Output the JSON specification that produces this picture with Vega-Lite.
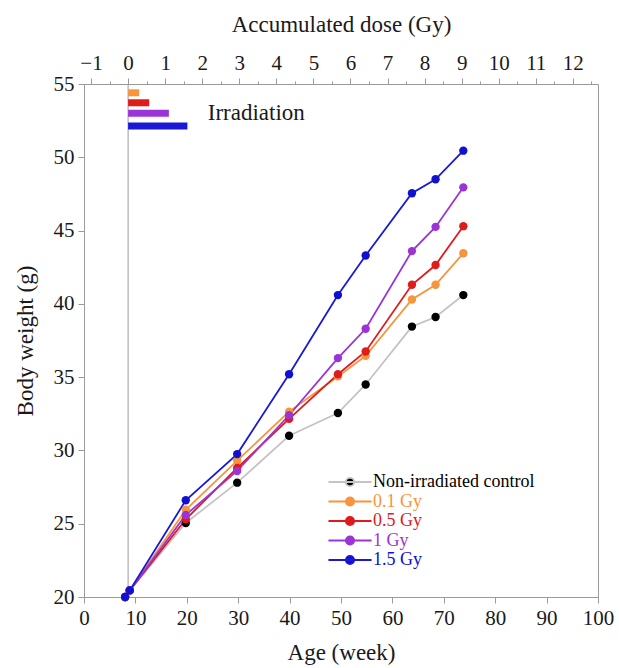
{
  "$schema": "https://vega.github.io/schema/vega-lite/v6.json",
  "width": 514,
  "height": 513,
  "autosize": {"type": "none"},
  "padding": {"left": 84, "top": 84, "right": 21, "bottom": 71},
  "background": "white",
  "config": {
    "font": "Liberation Serif",
    "view": {"stroke": "#9a9a9a", "strokeWidth": 1},
    "legend": {"labelFont": "Liberation Serif", "labelFontSize": 18, "labelLimit": 300},
    "axis": {
      "domainColor": "#9a9a9a",
      "tickColor": "#9a9a9a",
      "grid": false,
      "labelColor": "#1a1a1a",
      "titleColor": "#1a1a1a",
      "labelFont": "Liberation Serif",
      "titleFont": "Liberation Serif",
      "labelFontSize": 21,
      "titleFontSize": 23,
      "titleFontWeight": "normal",
      "tickSize": 6
    }
  },
  "datasets": {
    "growth": [
      {"group": "Non-irradiated control", "age": 8.0, "weight": 20.0},
      {"group": "Non-irradiated control", "age": 8.9, "weight": 20.45},
      {"group": "Non-irradiated control", "age": 19.8, "weight": 25.05},
      {"group": "Non-irradiated control", "age": 29.8, "weight": 27.8},
      {"group": "Non-irradiated control", "age": 39.9, "weight": 31.0},
      {"group": "Non-irradiated control", "age": 49.4, "weight": 32.55},
      {"group": "Non-irradiated control", "age": 54.8, "weight": 34.5},
      {"group": "Non-irradiated control", "age": 63.8, "weight": 38.45},
      {"group": "Non-irradiated control", "age": 68.4, "weight": 39.1},
      {"group": "Non-irradiated control", "age": 73.8, "weight": 40.6},
      {"group": "0.1 Gy", "age": 8.0, "weight": 20.0},
      {"group": "0.1 Gy", "age": 8.9, "weight": 20.45},
      {"group": "0.1 Gy", "age": 19.8, "weight": 25.95},
      {"group": "0.1 Gy", "age": 29.8, "weight": 29.3},
      {"group": "0.1 Gy", "age": 39.9, "weight": 32.65},
      {"group": "0.1 Gy", "age": 49.4, "weight": 35.05},
      {"group": "0.1 Gy", "age": 54.8, "weight": 36.45},
      {"group": "0.1 Gy", "age": 63.8, "weight": 40.3},
      {"group": "0.1 Gy", "age": 68.4, "weight": 41.3},
      {"group": "0.1 Gy", "age": 73.8, "weight": 43.45},
      {"group": "0.5 Gy", "age": 8.0, "weight": 20.0},
      {"group": "0.5 Gy", "age": 8.9, "weight": 20.45},
      {"group": "0.5 Gy", "age": 19.8, "weight": 25.3},
      {"group": "0.5 Gy", "age": 29.8, "weight": 28.8},
      {"group": "0.5 Gy", "age": 39.9, "weight": 32.15},
      {"group": "0.5 Gy", "age": 49.4, "weight": 35.2},
      {"group": "0.5 Gy", "age": 54.8, "weight": 36.75},
      {"group": "0.5 Gy", "age": 63.8, "weight": 41.3},
      {"group": "0.5 Gy", "age": 68.4, "weight": 42.65},
      {"group": "0.5 Gy", "age": 73.8, "weight": 45.3},
      {"group": "1 Gy", "age": 8.0, "weight": 20.0},
      {"group": "1 Gy", "age": 8.9, "weight": 20.45},
      {"group": "1 Gy", "age": 19.8, "weight": 25.6},
      {"group": "1 Gy", "age": 29.8, "weight": 28.6},
      {"group": "1 Gy", "age": 39.9, "weight": 32.4},
      {"group": "1 Gy", "age": 49.4, "weight": 36.3},
      {"group": "1 Gy", "age": 54.8, "weight": 38.3},
      {"group": "1 Gy", "age": 63.8, "weight": 43.6},
      {"group": "1 Gy", "age": 68.4, "weight": 45.25},
      {"group": "1 Gy", "age": 73.8, "weight": 47.95},
      {"group": "1.5 Gy", "age": 8.0, "weight": 20.0},
      {"group": "1.5 Gy", "age": 8.9, "weight": 20.45},
      {"group": "1.5 Gy", "age": 19.8, "weight": 26.6},
      {"group": "1.5 Gy", "age": 29.8, "weight": 29.75},
      {"group": "1.5 Gy", "age": 39.9, "weight": 35.2},
      {"group": "1.5 Gy", "age": 49.4, "weight": 40.6},
      {"group": "1.5 Gy", "age": 54.8, "weight": 43.3},
      {"group": "1.5 Gy", "age": 63.8, "weight": 47.55},
      {"group": "1.5 Gy", "age": 68.4, "weight": 48.5},
      {"group": "1.5 Gy", "age": 73.8, "weight": 50.45}
    ],
    "irradiation": [
      {"group": "0.1 Gy", "dose": 0, "end": 0.3, "level": 54.4},
      {"group": "0.5 Gy", "dose": 0, "end": 0.57, "level": 53.72},
      {"group": "1 Gy", "dose": 0, "end": 1.1, "level": 53.0},
      {"group": "1.5 Gy", "dose": 0, "end": 1.6, "level": 52.13}
    ],
    "zero": [{"dose": 0}],
    "note": [{"label": "Irradiation", "dose": 2.15, "level": 53.05}]
  },
  "layer": [
    {
      "encoding": {
        "x": {
          "field": "dose",
          "type": "quantitative",
          "scale": {"domain": [-1.19, 12.68], "nice": false, "zero": false},
          "axis": {
            "orient": "top",
            "title": "Accumulated dose (Gy)",
            "values": [-1, -0.5, 0, 0.5, 1, 1.5, 2, 2.5, 3, 3.5, 4, 4.5, 5, 5.5, 6, 6.5, 7, 7.5, 8, 8.5, 9, 9.5, 10, 10.5, 11, 11.5, 12, 12.5],
            "labelExpr": "datum.value % 1 === 0 ? format(datum.value, 'd') : ''",
            "labelOverlap": false,
            "labelFlush": false,
            "tickSize": {"condition": {"test": "datum.value % 1 !== 0", "value": 3}, "value": 6},
            "labelPadding": 5,
            "titlePadding": 16
          }
        }
      },
      "layer": [
        {
          "data": {"name": "zero"},
          "mark": {"type": "rule", "color": "#9a9a9a", "strokeWidth": 1}
        },
        {
          "data": {"name": "irradiation"},
          "mark": {"type": "rule", "strokeWidth": 7, "strokeCap": "butt"},
          "encoding": {
            "x2": {"field": "end"},
            "y": {"field": "level", "type": "quantitative"},
            "stroke": {"field": "group", "type": "nominal"}
          }
        },
        {
          "data": {"name": "note"},
          "mark": {"type": "text", "align": "left", "baseline": "middle", "font": "Liberation Serif", "fontSize": 23, "color": "#1a1a1a"},
          "encoding": {
            "y": {"field": "level", "type": "quantitative"},
            "text": {"field": "label"}
          }
        }
      ]
    },
    {
      "data": {"name": "growth"},
      "layer": [
        {
          "mark": {"type": "line", "strokeWidth": 1.8},
          "encoding": {
            "x": {
              "field": "age",
              "type": "quantitative",
              "scale": {"domain": [0, 100], "nice": false},
              "axis": {
                "orient": "bottom",
                "title": "Age (week)",
                "values": [0, 10, 20, 30, 40, 50, 60, 70, 80, 90, 100],
                "labelFlush": false,
                "labelPadding": 4,
                "titlePadding": 13
              }
            },
            "y": {
              "field": "weight",
              "type": "quantitative",
              "scale": {"domain": [20, 55], "nice": false, "zero": false},
              "axis": {
                "title": "Body weight (g)",
                "values": [20, 25, 30, 35, 40, 45, 50, 55],
                "labelPadding": 4,
                "titlePadding": 16
              }
            },
            "stroke": {
              "field": "group",
              "type": "nominal",
              "scale": {
                "domain": ["Non-irradiated control", "0.1 Gy", "0.5 Gy", "1 Gy", "1.5 Gy"],
                "range": ["#c4c4c4", "#f7943c", "#e01b1b", "#9b34d6", "#1a1ad6"]
              },
              "legend": {
                "orient": "none",
                "legendX": 257,
                "legendY": 389,
                "title": null,
                "symbolType": "M-4.4,0H4.4M0.85,0A0.85,0.85,0,1,1,-0.85,0A0.85,0.85,0,1,1,0.85,0Z",
                "symbolSize": 96,
                "symbolStrokeWidth": 1.8,
                "labelFont": "Liberation Serif",
                "labelFontSize": 18,
                "labelLimit": 300,
                "labelOffset": 14,
                "rowPadding": 1.5,
                "encode": {
                  "symbols": {"update": {"fill": {"scale": "fill", "field": "value"}, "fillOpacity": {"value": 1}}},
                  "labels": {"update": {"fill": {"scale": "fill", "field": "value"}, "font": {"value": "Liberation Serif"}}}
                }
              }
            },
            "order": {"field": "age"}
          }
        },
        {
          "mark": {"type": "point", "filled": true, "size": 70, "opacity": 1},
          "encoding": {
            "x": {"field": "age", "type": "quantitative"},
            "y": {"field": "weight", "type": "quantitative"},
            "fill": {
              "field": "group",
              "type": "nominal",
              "scale": {
                "domain": ["Non-irradiated control", "0.1 Gy", "0.5 Gy", "1 Gy", "1.5 Gy"],
                "range": ["#000000", "#f7943c", "#e01b1b", "#9b34d6", "#1010d0"]
              },
              "legend": null
            }
          }
        }
      ]
    }
  ],
  "resolve": {"scale": {"x": "independent"}, "axis": {"x": "independent"}}
}
